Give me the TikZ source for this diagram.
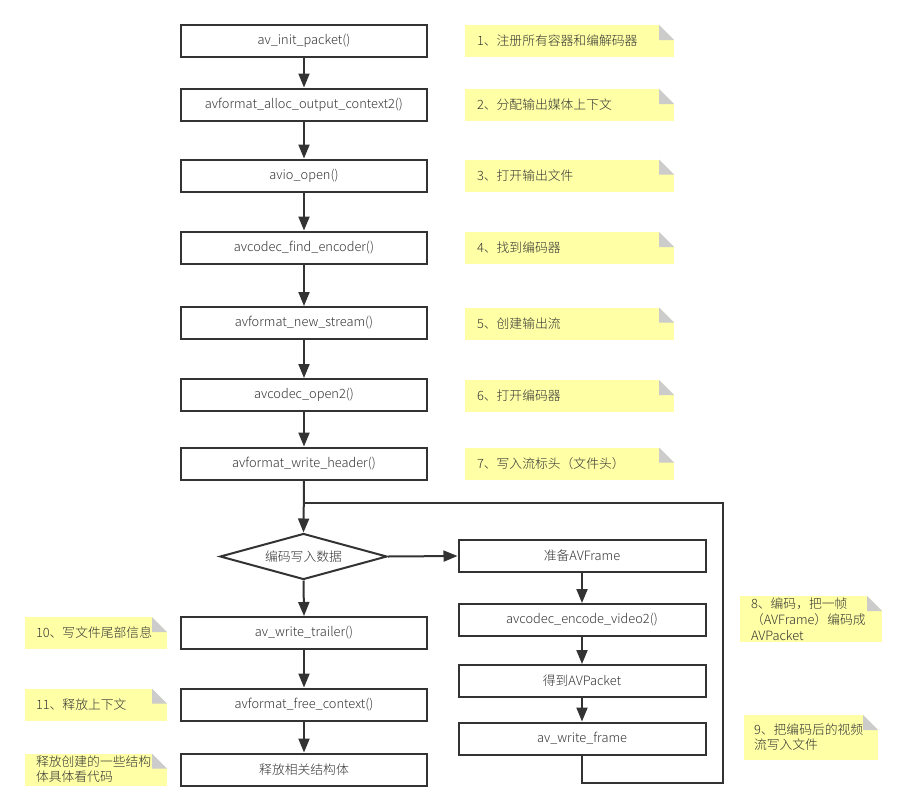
\documentclass[tikz,border=0pt]{standalone}
\usepackage{fontspec}
\setmainfont{Noto Sans CJK SC Light}
\usetikzlibrary{shapes.geometric,arrows.meta}
\definecolor{ink}{HTML}{333333}
\definecolor{txt}{HTML}{333333}
\definecolor{notey}{HTML}{FFFFA6}
\definecolor{foldg}{HTML}{CCCCCC}
\begin{document}
\begin{tikzpicture}[x=1pt,y=-1pt,
  font=\fontsize{12.8}{15}\selectfont, text=txt,
  box/.style={draw=ink, line width=2pt, rectangle, minimum height=32pt, inner sep=0pt},
  lbox/.style={box, minimum width=246pt},
  rbox/.style={box, minimum width=247pt},
  dia/.style={draw=ink, line width=2pt, diamond, shape aspect=3.6, minimum width=167pt, minimum height=46pt, inner sep=0pt},
  arr/.style={draw=ink, line width=2pt, -{Triangle[width=11pt,length=14pt]}},
  loopline/.style={draw=ink, line width=1.6pt},
  note/.style={rectangle, inner ysep=0pt, align=left,
    path picture={
      \fill[notey] (path picture bounding box.south west) rectangle (path picture bounding box.north east);
      \fill[white] ([xshift=-15pt]path picture bounding box.north east) -- (path picture bounding box.north east) -- ([yshift=-15pt]path picture bounding box.north east) -- cycle;
      \fill[foldg] ([xshift=-15pt]path picture bounding box.north east) -- ([xshift=-15pt,yshift=-15pt]path picture bounding box.north east) -- ([yshift=-15pt]path picture bounding box.north east) -- cycle;
    }},
  rnote/.style={note, minimum width=209pt, minimum height=32pt, inner xsep=12pt, text width=185pt},
  lnote/.style={note, minimum width=142pt, minimum height=32pt, inner xsep=11pt, text width=120pt}
]
\useasboundingbox (0,0) rectangle (907,811);

% left column
\node[lbox] (b1) at (304,41) {av\_init\_packet()};
\node[lbox] (b2) at (304,104.5) {avformat\_alloc\_output\_context2()};
\node[lbox] (b3) at (304,175.5) {avio\_open()};
\node[lbox] (b4) at (304,247.5) {avcodec\_find\_encoder()};
\node[lbox] (b5) at (304,323) {avformat\_new\_stream()};
\node[lbox] (b6) at (304,395) {avcodec\_open2()};
\node[lbox] (b7) at (304,463.5) {avformat\_write\_header()};
\node[dia] (d) at (303.5,556.5) {编码写入数据};
\node[lbox] (b8) at (304,633) {av\_write\_trailer()};
\node[lbox] (b9) at (304,704.5) {avformat\_free\_context()};
\node[lbox] (b10) at (304,769.5) {释放相关结构体};

% right column
\node[rbox] (r1) at (582,556) {准备AVFrame};
\node[rbox] (r2) at (582,620) {avcodec\_encode\_video2()};
\node[rbox] (r3) at (582,681) {得到AVPacket};
\node[rbox] (r4) at (582,738.5) {av\_write\_frame};

% notes
\node[rnote] (n1) at (569.5,41) {1、注册所有容器和编解码器};
\node[rnote] (n2) at (569.5,105) {2、分配输出媒体上下文};
\node[rnote] (n3) at (569.5,175.5) {3、打开输出文件};
\node[rnote] (n4) at (569.5,248) {4、找到编码器};
\node[rnote] (n5) at (569.5,323.5) {5、创建输出流};
\node[rnote] (n6) at (569.5,396) {6、打开编码器};
\node[rnote] (n7) at (569.5,463.5) {7、写入流标头（文件头）};
\node[note, minimum width=142pt, minimum height=46pt, inner xsep=11pt, text width=120pt,
  font=\fontsize{12.8}{16}\selectfont] (n8) at (811,619) {8、编码，把一帧\\（AVFrame）编码成\\AVPacket};
\node[note, minimum width=134pt, minimum height=45pt, inner xsep=10pt, text width=114pt] (n9) at (811,737.5) {9、把编码后的视频\\流写入文件};
\node[lnote] (n10) at (96,633) {10、写文件尾部信息};
\node[lnote] (n11) at (96,704.5) {11、释放上下文};
\node[lnote] (n12) at (96,769.5) {释放创建的一些结构\\体具体看代码};

% connectors
\draw[arr] (b1) -- (b2);
\draw[arr] (b2) -- (b3);
\draw[arr] (b3) -- (b4);
\draw[arr] (b4) -- (b5);
\draw[arr] (b5) -- (b6);
\draw[arr] (b6) -- (b7);
\draw[arr] (b7.south) -- (d.north);
\draw[arr] (d.east) -- (r1.west);
\draw[arr] (r1) -- (r2);
\draw[arr] (r2) -- (r3);
\draw[arr] (r3) -- (r4);
\draw[arr] (d.south) -- (b8.north);
\draw[arr] (b8) -- (b9);
\draw[arr] (b9) -- (b10);

\coordinate (lb) at (723,783);
\coordinate (lt) at (723,503);
\coordinate (lj) at (304,503);
\draw[loopline] (r4.south) |- (lb) -- (lt) -- (lj);
\end{tikzpicture}
\end{document}
